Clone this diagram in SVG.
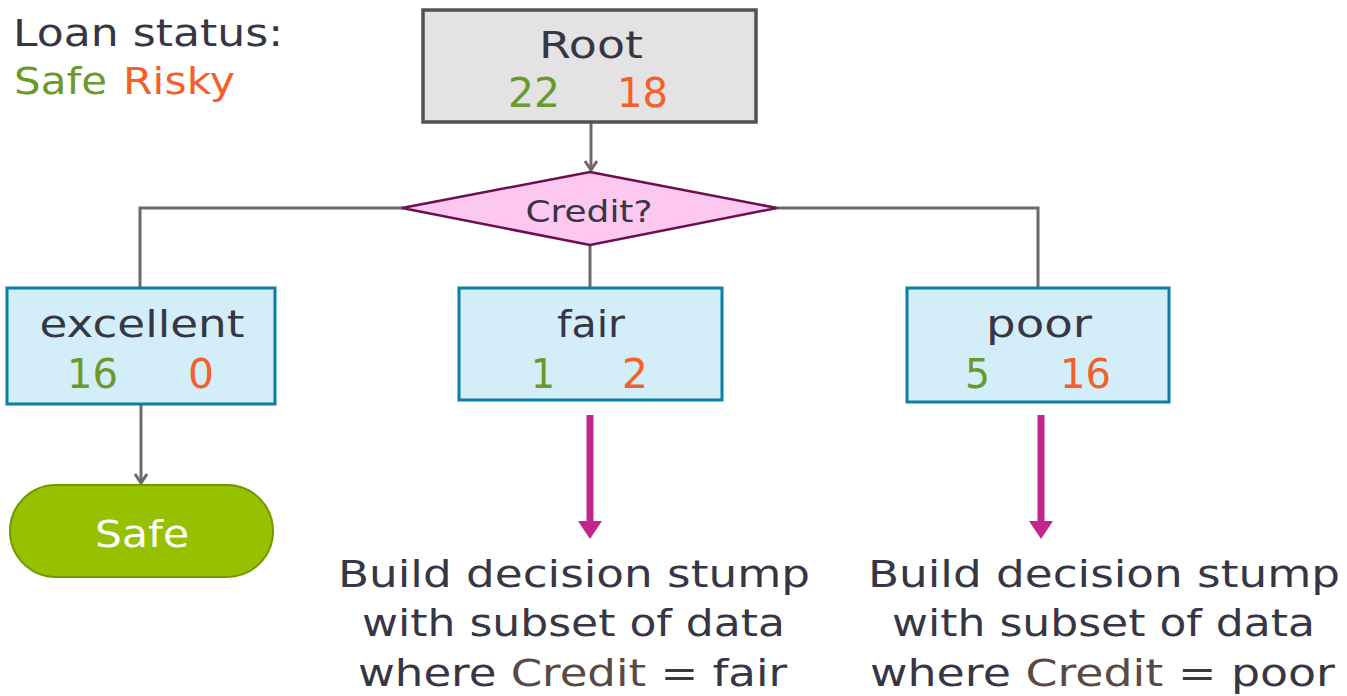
<svg xmlns="http://www.w3.org/2000/svg" width="1347" height="696" viewBox="0 0 1347 696">
<defs>
<style>
text{font-family:"DejaVu Sans","Liberation Sans",sans-serif;}
.dark{fill:#363645;}
.g{fill:#6b9a2b;}
.r{fill:#f4602a;}
.box{fill:#d3edf9;stroke:#0a7fa5;stroke-width:3;}
.lbl{font-size:38px;text-anchor:middle;}
.num{font-size:40px;}
.conn{fill:none;stroke:#6e6868;stroke-width:3;}
.mag{fill:none;stroke:#c0268d;stroke-width:7;}
.bt{font-size:38px;}
</style>
<marker id="chev" markerUnits="userSpaceOnUse" markerWidth="20" markerHeight="20" viewBox="-10 -10 20 20" refX="0" refY="0" orient="auto">
<path d="M-9,-6 L0,0 L-9,6" fill="none" stroke="#6e6868" stroke-width="3"/>
</marker>
<marker id="tri" markerUnits="userSpaceOnUse" markerWidth="30" markerHeight="30" viewBox="0 -15 30 30" refX="0" refY="0" orient="auto">
<path d="M0,-12 L18,0 L0,12 Z" fill="#c0268d"/>
</marker>
</defs>
<rect width="1347" height="696" fill="#ffffff"/>

<g id="legend">
<text x="13" y="46" font-size="38" class="dark" textLength="270" lengthAdjust="spacingAndGlyphs">Loan status:</text>
<text x="14" y="94" font-size="38" class="g" textLength="93" lengthAdjust="spacingAndGlyphs">Safe</text>
<text x="123" y="94" font-size="38" class="r" textLength="112" lengthAdjust="spacingAndGlyphs">Risky</text>
</g>

<g id="connectors">
<line class="conn" x1="591" y1="122" x2="591" y2="170" marker-end="url(#chev)"/>
<polyline class="conn" points="403,208 140,208 140,288"/>
<line class="conn" x1="590" y1="245" x2="590" y2="288"/>
<polyline class="conn" points="777,208 1038,208 1038,288"/>
<line class="conn" x1="141" y1="405" x2="141" y2="483" marker-end="url(#chev)"/>
<line class="mag" x1="590" y1="415" x2="590" y2="521" marker-end="url(#tri)"/>
<line class="mag" x1="1041" y1="415" x2="1041" y2="521" marker-end="url(#tri)"/>
</g>

<g id="root">
<rect x="423" y="10" width="333" height="112" fill="#e4e2e3" stroke="#555153" stroke-width="3.5"/>
<text x="591" y="58" class="lbl dark" font-size="40" textLength="104" lengthAdjust="spacingAndGlyphs">Root</text>
<text x="508" y="107" class="num g" textLength="52" lengthAdjust="spacingAndGlyphs">22</text>
<text x="617" y="107" class="num r" textLength="51" lengthAdjust="spacingAndGlyphs">18</text>
</g>

<g id="credit">
<polygon points="590,172 777,208 590,245 402,208" fill="#fdc8ef" stroke="#6b0f4f" stroke-width="2.5"/>
<text x="589" y="222" font-size="30" text-anchor="middle" class="dark" textLength="127" lengthAdjust="spacingAndGlyphs">Credit?</text>
</g>

<g id="excellent">
<rect class="box" x="7" y="288" width="268" height="116"/>
<text x="142" y="337" class="lbl dark" textLength="205" lengthAdjust="spacingAndGlyphs">excellent</text>
<text x="67" y="388" class="num g" textLength="51" lengthAdjust="spacingAndGlyphs">16</text>
<text x="188" y="388" class="num r" textLength="26" lengthAdjust="spacingAndGlyphs">0</text>
</g>

<g id="fair">
<rect class="box" x="459" y="288" width="263" height="112"/>
<text x="591" y="337" class="lbl dark" textLength="68" lengthAdjust="spacingAndGlyphs">fair</text>
<text x="531" y="388" class="num g" textLength="24" lengthAdjust="spacingAndGlyphs">1</text>
<text x="622" y="388" class="num r" textLength="26" lengthAdjust="spacingAndGlyphs">2</text>
</g>

<g id="poor">
<rect class="box" x="907" y="288" width="262" height="114"/>
<text x="1039" y="337" class="lbl dark" textLength="106" lengthAdjust="spacingAndGlyphs">poor</text>
<text x="965" y="388" class="num g" textLength="25" lengthAdjust="spacingAndGlyphs">5</text>
<text x="1060" y="388" class="num r" textLength="51" lengthAdjust="spacingAndGlyphs">16</text>
</g>

<g id="safe">
<rect x="10" y="485" width="263" height="92" rx="46" ry="46" fill="#97c100" stroke="#6f9a00" stroke-width="2"/>
<text x="142" y="547" font-size="38" text-anchor="middle" fill="#ffffff" textLength="94" lengthAdjust="spacingAndGlyphs">Safe</text>
</g>

<g id="fair-note">
<text x="338" y="587" class="bt dark" textLength="472" lengthAdjust="spacingAndGlyphs">Build decision stump</text>
<text x="362" y="636" class="bt dark" textLength="423" lengthAdjust="spacingAndGlyphs">with subset of data</text>
<text x="358" y="686" class="bt dark" textLength="429" lengthAdjust="spacingAndGlyphs">where <tspan fill="#5a4a44">Credit</tspan> = fair</text>
</g>

<g id="poor-note">
<text x="868" y="587" class="bt dark" textLength="472" lengthAdjust="spacingAndGlyphs">Build decision stump</text>
<text x="892" y="636" class="bt dark" textLength="423" lengthAdjust="spacingAndGlyphs">with subset of data</text>
<text x="870" y="686" class="bt dark" textLength="465" lengthAdjust="spacingAndGlyphs">where <tspan fill="#5a4a44">Credit</tspan> = poor</text>
</g>
</svg>
